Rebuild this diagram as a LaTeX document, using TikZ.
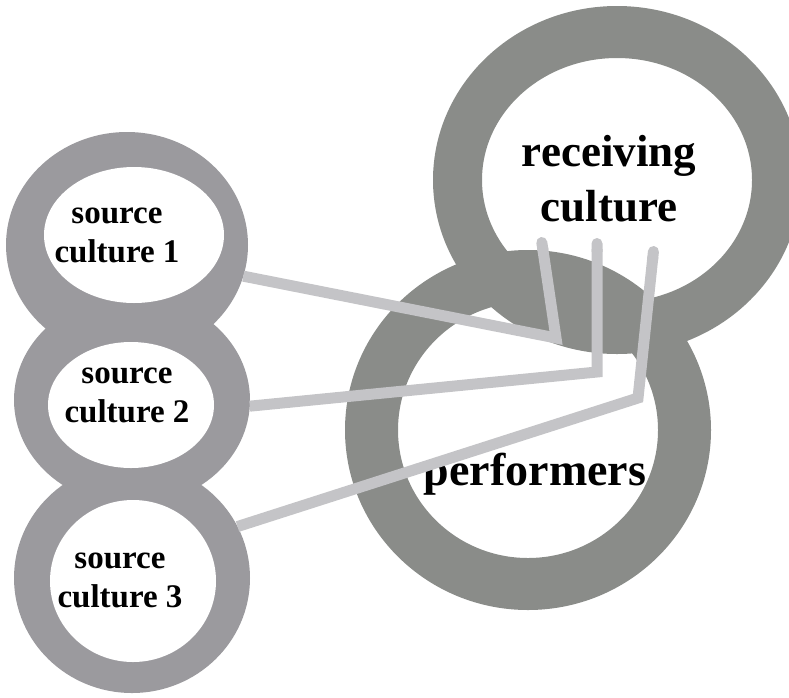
\documentclass[tikz,border=0pt]{standalone}
\usepackage{fontspec}
\setmainfont{Liberation Serif}
\usetikzlibrary{shapes.geometric,arrows.meta}
\definecolor{bigring}{RGB}{138,140,137}
\definecolor{smallring}{RGB}{155,154,158}
\definecolor{linkcol}{RGB}{196,196,199}
\begin{document}
\begin{tikzpicture}[x=1pt,y=-1pt,
  ringouter/.style={ellipse, fill=smallring, inner sep=0pt, outer sep=0pt},
  srclabel/.style={align=center, inner sep=0pt, font=\bfseries\fontsize{33}{39}\selectfont},
  biglabel/.style={align=center, inner sep=0pt, font=\bfseries\fontsize{45}{55}\selectfont},
  link/.style={draw=linkcol, line width=11pt, line join=miter, -{Round Cap[]}}]
\useasboundingbox (0,0) rectangle (789,697);
% source culture rings
\node[ringouter, minimum width=242pt, minimum height=226pt] (r1) at (127,245) {};
\node[ringouter, minimum width=236pt, minimum height=210pt] (r2) at (132,400) {};
\node[ringouter, minimum width=236pt, minimum height=230pt] (r3) at (132,578) {};
\fill[white] (134,235) ellipse [x radius=90, y radius=68];
\fill[white] (131,405) ellipse [x radius=83, y radius=63];
\fill[white] (133,581) ellipse [x radius=83, y radius=81];
% receiving culture and performers rings
\fill[bigring, even odd rule] (617,180) ellipse [x radius=184, y radius=174]
                              (617,180) ellipse [x radius=135, y radius=122];
\fill[bigring, even odd rule] (528,430) ellipse [x radius=183, y radius=180]
                              (528,430) ellipse [x radius=130, y radius=128];
% labels
\node[srclabel] (s1) at (117,235) {source\\culture 1};
\node[srclabel] (s2) at (127,395) {source\\culture 2};
\node[srclabel] (s3) at (120,580) {source\\culture 3};
\node[biglabel] (rc) at (609,179) {receiving\\culture};
\node[biglabel, anchor=base, font=\bfseries\fontsize{46}{55}\selectfont] (pf) at (535,485) {performers};
% connectors
\coordinate (b1) at (556,338); \coordinate (t1) at (541,237);
\coordinate (b2) at (597,372); \coordinate (t2) at (597,238);
\coordinate (b3) at (638,398); \coordinate (t3) at (654,246);
\draw[link] (r1.-15) -- (b1) -- (t1);
\draw[link] (r2.-3) -- (b2) -- (t2);
\draw[link] (r3.26) -- (b3) -- (t3);
\end{tikzpicture}
\end{document}
